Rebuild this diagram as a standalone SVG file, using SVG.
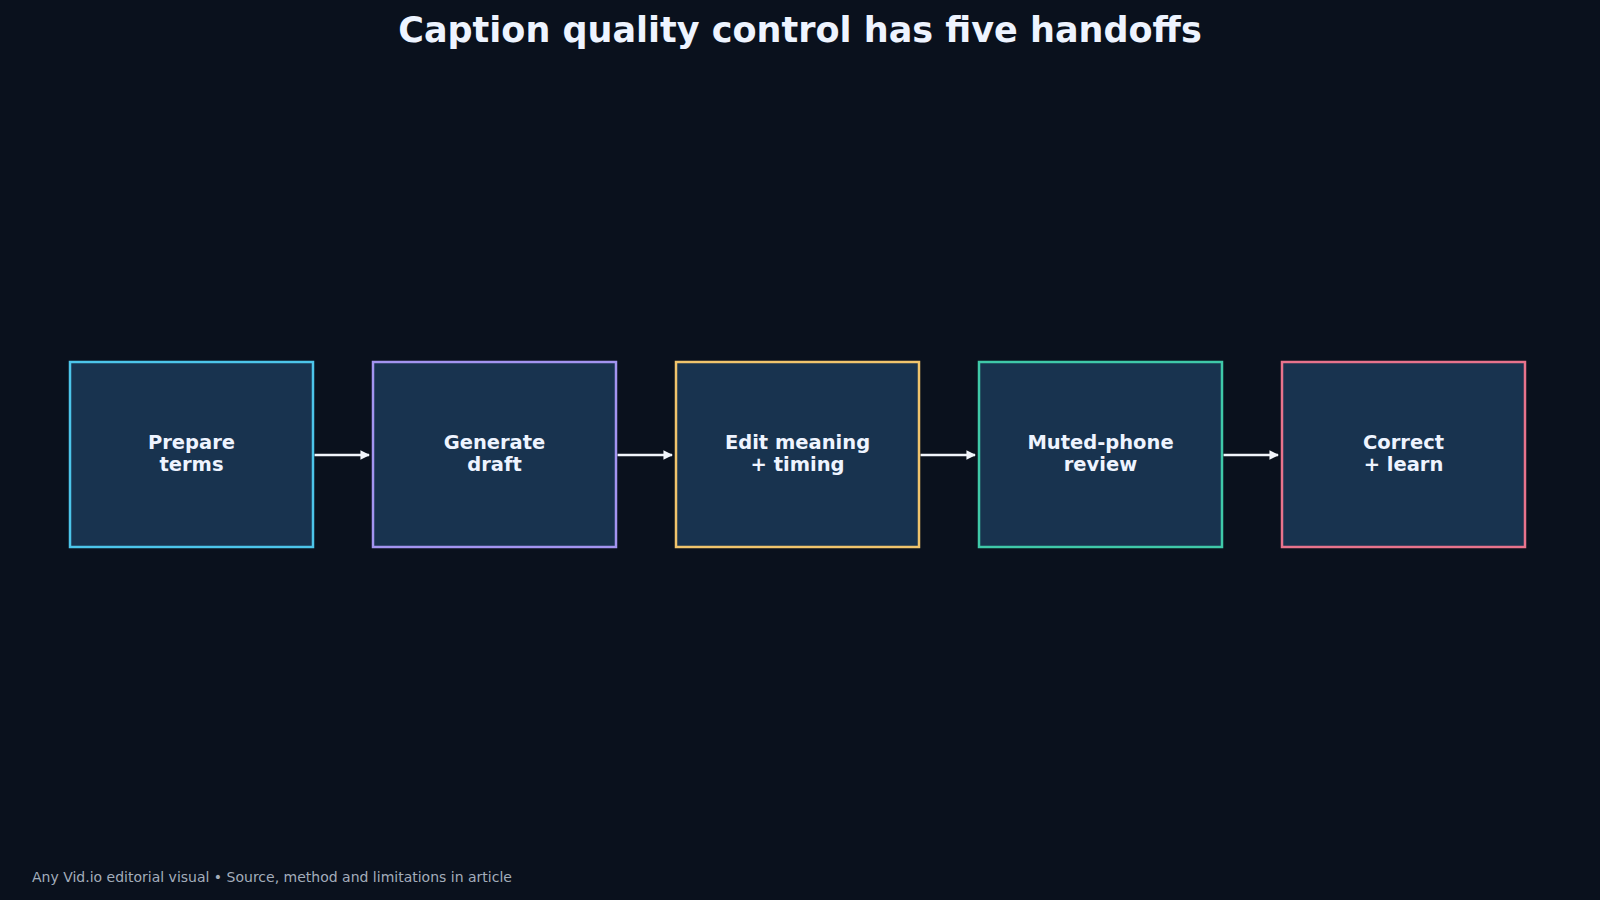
<svg xmlns="http://www.w3.org/2000/svg" width="1600" height="900" viewBox="0 0 1600 900">
  <defs>
    <style>
      .bg { fill: #0a111d; }
      .title { font-family: "DejaVu Sans", sans-serif; font-weight: bold; font-size: 35px; fill: #eef4ff; text-anchor: middle; }
      .box { fill: #18334f; stroke-width: 2.5; }
      .label { font-family: "DejaVu Sans", sans-serif; font-weight: bold; font-size: 19.5px; fill: #eef4ff; text-anchor: middle; }
      .conn { stroke: #f1f5fb; stroke-width: 2.5; fill: none; marker-end: url(#arrow); }
      .footer { font-family: "DejaVu Sans", sans-serif; font-size: 14px; fill: #a3adbb; }
    </style>
    <marker id="arrow" viewBox="0 0 10 10" refX="9" refY="5" markerWidth="3.8" markerHeight="3.8" orient="auto" markerUnits="strokeWidth">
      <path d="M0,0 L10,5 L0,10 Z" fill="#f1f5fb"/>
    </marker>
  </defs>
  <rect class="bg" x="0" y="0" width="1600" height="900"/>
  <text class="title" x="800" y="42">Caption quality control has five handoffs</text>

  <g id="connectors">
    <line class="conn" x1="314.5" y1="455" x2="369" y2="455"/>
    <line class="conn" x1="617.5" y1="455" x2="672" y2="455"/>
    <line class="conn" x1="920.5" y1="455" x2="975" y2="455"/>
    <line class="conn" x1="1223.5" y1="455" x2="1278" y2="455"/>
  </g>

  <g id="node-prepare">
    <rect class="box" x="70" y="362" width="243" height="185" stroke="#4cc5ea"/>
    <text class="label" x="191.5" y="449">Prepare</text>
    <text class="label" x="191.5" y="471">terms</text>
  </g>
  <g id="node-generate">
    <rect class="box" x="373" y="362" width="243" height="185" stroke="#a394f0"/>
    <text class="label" x="494.5" y="449">Generate</text>
    <text class="label" x="494.5" y="471">draft</text>
  </g>
  <g id="node-edit">
    <rect class="box" x="676" y="362" width="243" height="185" stroke="#f0c46c"/>
    <text class="label" x="797.5" y="449">Edit meaning</text>
    <text class="label" x="797.5" y="471">+ timing</text>
  </g>
  <g id="node-review">
    <rect class="box" x="979" y="362" width="243" height="185" stroke="#3fc9a9"/>
    <text class="label" x="1100.5" y="449">Muted-phone</text>
    <text class="label" x="1100.5" y="471">review</text>
  </g>
  <g id="node-correct">
    <rect class="box" x="1282" y="362" width="243" height="185" stroke="#e8738c"/>
    <text class="label" x="1403.5" y="449">Correct</text>
    <text class="label" x="1403.5" y="471">+ learn</text>
  </g>

  <text class="footer" x="32" y="882">Any Vid.io editorial visual • Source, method and limitations in article</text>
</svg>
